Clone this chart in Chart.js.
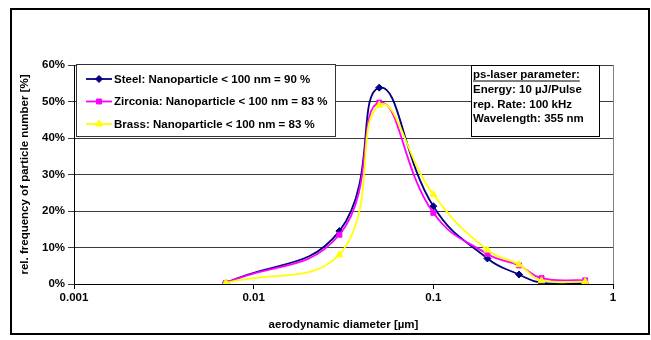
<!DOCTYPE html>
<html>
<head>
<meta charset="utf-8">
<script src="https://cdn.jsdelivr.net/npm/chart.js@4.4.1/dist/chart.umd.min.js"></script>
<style>
  html, body { margin: 0; padding: 0; background: #fff; }
  #wrap { position: relative; width: 651px; height: 340px; }
  #c { position: absolute; left: 0; top: 0; }
  #frame { position: absolute; left: 10px; top: 8px; width: 636px; height: 323px; border: 2px solid #000; pointer-events: none; }
</style>
</head>
<body>
<div id="wrap">
  <canvas id="c" width="651" height="340"></canvas>
  <div id="frame"></div>
</div>
<script>
// Aerodynamic diameter (µm)
const diameters = [0.007, 0.03, 0.05, 0.1, 0.2, 0.3, 0.4, 0.7];
// Relative frequency of particle number (%)
const steel    = [0.3, 14.5, 53.8, 21.3, 7.0, 2.6, 0.3, 0.2];
const zirconia = [0.3, 13.5, 49.7, 19.5, 8.2, 5.1, 1.6, 1.0];
const brass    = [0.3,  8.0, 49.0, 24.5, 9.3, 5.3, 0.9, 0.6];
const xTicks = [0.001, 0.01, 0.1, 1];
const xTickLabels = ['0.001', '0.01', '0.1', '1'];
const seriesNames = [
  'Steel: Nanoparticle < 100 nm = 90 %',
  'Zirconia: Nanoparticle < 100 nm = 83 %',
  'Brass: Nanoparticle < 100 nm = 83 %'
];
const infoLines = ['ps-laser parameter:', 'Energy: 10 µJ/Pulse', 'rep. Rate: 100 kHz', 'Wavelength: 355 nm'];

const FONT = 'Liberation Sans, Arial, sans-serif';
const FSIZE = 11.5;
const toPts = arr => arr.map((v, i) => ({ x: diameters[i], y: v }));

const styles = [
  { color: '#000080', point: 'rectRot', radius: 3.5 },
  { color: '#FF00FF', point: 'rect', radius: 3.5 },
  { color: '#FFFF00', point: 'triangle', radius: 4 }
];
const seriesData = [steel, zirconia, brass];

const datasets = seriesData.map((d, i) => ({
  label: seriesNames[i],
  data: toPts(d),
  borderColor: styles[i].color,
  backgroundColor: styles[i].color,
  pointBackgroundColor: styles[i].color,
  pointBorderColor: styles[i].color,
  pointStyle: styles[i].point,
  pointRadius: styles[i].radius,
  pointBorderWidth: 1,
  borderWidth: 1.8,
  tension: 0.45,
  fill: false,
  order: 3 - i
}));

const overlay = {
  id: 'overlay',
  beforeDatasetsDraw(chart) {
    const ctx = chart.ctx;
    const ca = chart.chartArea;
    ctx.save();
    ctx.strokeStyle = '#808080';
    ctx.lineWidth = 1;
    ctx.beginPath();
    ctx.moveTo(Math.round(ca.right) + 0.5, ca.top);
    ctx.lineTo(Math.round(ca.right) + 0.5, ca.bottom);
    ctx.stroke();

    ctx.fillStyle = '#fff';
    ctx.fillRect(76, 64, 259, 72);
    ctx.strokeStyle = '#333';
    ctx.lineWidth = 1;
    ctx.strokeRect(76.5, 64.5, 259, 72);

    ctx.fillStyle = '#fff';
    ctx.fillRect(471, 65, 128, 71);
    ctx.strokeStyle = '#000';
    ctx.strokeRect(471.5, 65.5, 128, 71);
    ctx.restore();
  },
  afterDatasetsDraw(chart) {
    const ctx = chart.ctx;
    ctx.save();
    const ys = [79, 101.5, 124];
    ctx.font = 'bold ' + FSIZE + 'px ' + FONT;
    ctx.textBaseline = 'middle';
    ctx.textAlign = 'left';
    for (let i = 0; i < 3; i++) {
      const y = ys[i];
      ctx.strokeStyle = styles[i].color;
      ctx.lineWidth = 1.8;
      ctx.beginPath();
      ctx.moveTo(86, y);
      ctx.lineTo(112, y);
      ctx.stroke();
      ctx.fillStyle = styles[i].color;
      ctx.strokeStyle = styles[i].color;
      ctx.lineWidth = 1;
      Chart.helpers.drawPoint(ctx, { pointStyle: styles[i].point, radius: styles[i].radius, rotation: 0, borderWidth: 1 }, 99, y);
      ctx.fillStyle = '#000';
      ctx.fillText(seriesNames[i], 114, y + 0.5);
    }
    const iy = [75, 90, 104.5, 119];
    ctx.fillStyle = '#000';
    for (let i = 0; i < infoLines.length; i++) {
      ctx.fillText(infoLines[i], 473, iy[i]);
      if (i === 0) {
        const w = ctx.measureText(infoLines[i]).width;
        ctx.fillRect(473, iy[i] + 5.5, w, 1);
      }
    }
    ctx.restore();
  }
};

new Chart(document.getElementById('c'), {
  type: 'line',
  data: { datasets },
  plugins: [overlay],
  options: {
    responsive: false,
    devicePixelRatio: 1,
    animation: false,
    layout: { padding: { left: 14, right: 38, top: 65, bottom: 4 } },
    plugins: { legend: { display: false }, tooltip: { enabled: false } },
    scales: {
      x: {
        type: 'logarithmic',
        min: 0.001,
        max: 1,
        afterBuildTicks(scale) { scale.ticks = xTicks.map(v => ({ value: v })); },
        afterFit(scale) { scale.height = 52; },
        ticks: {
          autoSkip: false,
          maxRotation: 0,
          color: '#000',
          font: { family: FONT, size: FSIZE, weight: 'bold' },
          padding: 2,
          callback: (v) => { const i = xTicks.indexOf(v); return i >= 0 ? xTickLabels[i] : ''; }
        },
        grid: { drawOnChartArea: false, drawTicks: true, tickLength: 5, color: '#000' },
        border: { display: true, color: '#000', width: 1 },
        title: {
          display: true,
          text: 'aerodynamic diameter [µm]',
          color: '#000',
          font: { family: FONT, size: FSIZE, weight: 'bold' },
          padding: { top: 4, bottom: 4 }
        }
      },
      y: {
        min: 0,
        max: 60,
        afterFit(scale) { scale.width = 60; },
        ticks: {
          stepSize: 10,
          color: '#000',
          font: { family: FONT, size: FSIZE, weight: 'bold' },
          padding: 3,
          callback: (v) => v + '%'
        },
        grid: { color: '#3a3a3a', lineWidth: 1, tickLength: 6, drawTicks: true },
        border: { display: true, color: '#000', width: 1 },
        title: {
          display: true,
          text: 'rel. frequency of particle number [%]',
          color: '#000',
          font: { family: FONT, size: FSIZE, weight: 'bold' },
          padding: { top: 4, bottom: 4 }
        }
      }
    }
  }
});
</script>
</body>
</html>
